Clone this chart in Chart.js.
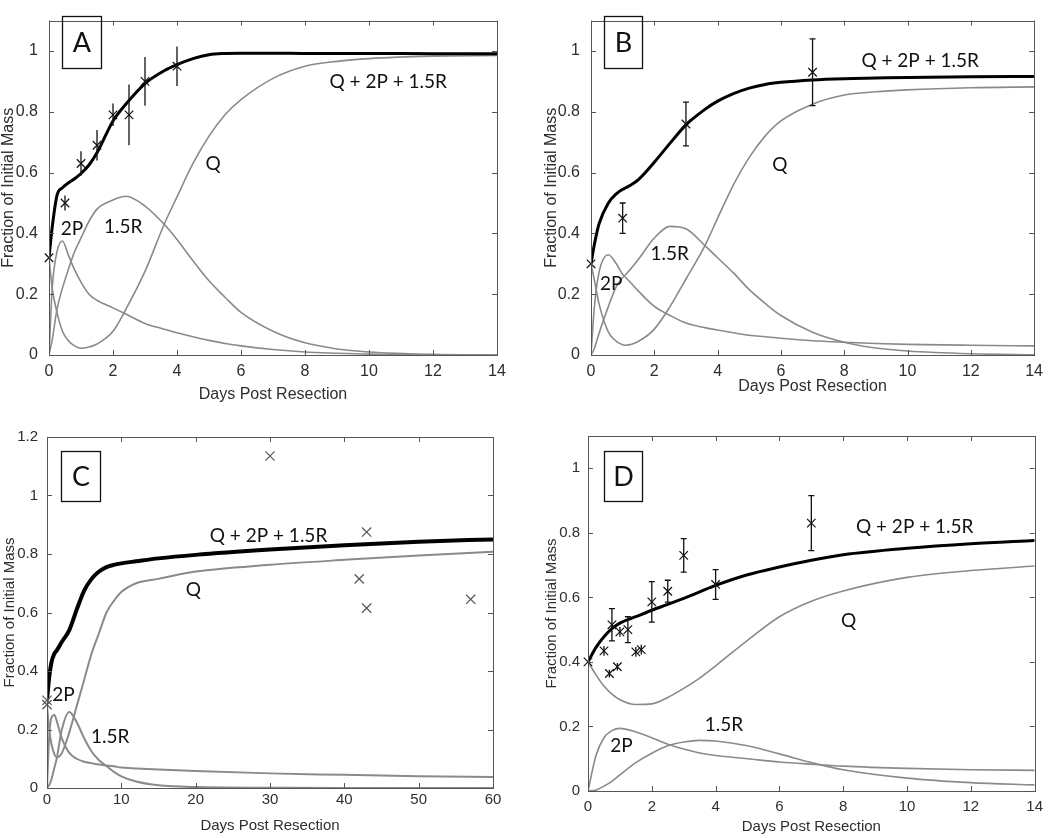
<!DOCTYPE html>
<html>
<head>
<meta charset="utf-8">
<script src="https://cdn.jsdelivr.net/npm/chart.js@4.4.1/dist/chart.umd.min.js"></script>
<style>
  body { margin: 0; background: #fff; }
  #fig { position: relative; width: 1050px; height: 838px; overflow: hidden; background: #fff; }
  canvas { position: absolute; }
</style>
</head>
<body>
<div id="fig">
  <canvas id="pa" width="525" height="419" style="left:0;top:0"></canvas>
  <canvas id="pb" width="525" height="419" style="left:525px;top:0"></canvas>
  <canvas id="pc" width="525" height="419" style="left:0;top:419px"></canvas>
  <canvas id="pd" width="525" height="419" style="left:525px;top:419px"></canvas>
</div>
<script>
// tick labels
const dayTicks14 = [0, 2, 4, 6, 8, 10, 12, 14];
const dayTicks60 = [0, 10, 20, 30, 40, 50, 60];
const fracTicks = [0, 0.2, 0.4, 0.6, 0.8, 1];
const fracTicksC = [0, 0.2, 0.4, 0.6, 0.8, 1, 1.2];

// panel A - model curves
const aDays  = [0, 0.1, 0.25, 0.42, 0.6, 0.8, 1, 1.25, 1.5, 2, 2.4, 3, 3.6, 4, 4.5, 5, 5.5, 6, 7, 8, 9, 10, 12, 14];
const aTotal = [0.32, 0.42, 0.525, 0.55, 0.566, 0.58, 0.597, 0.625, 0.665, 0.77, 0.825, 0.893, 0.935, 0.955, 0.975, 0.988, 0.992, 0.993, 0.993, 0.992, 0.992, 0.992, 0.991, 0.991];
const aQ     = [0.32, 0.22, 0.14, 0.078, 0.048, 0.03, 0.022, 0.026, 0.036, 0.078, 0.15, 0.275, 0.43, 0.52, 0.63, 0.72, 0.79, 0.84, 0.91, 0.95, 0.966, 0.975, 0.983, 0.985];
const a2P    = [0, 0.22, 0.34, 0.375, 0.33, 0.28, 0.24, 0.2, 0.18, 0.155, 0.135, 0.104, 0.085, 0.073, 0.06, 0.048, 0.038, 0.03, 0.018, 0.01, 0.006, 0.003, 0.001, 0];
const aR     = [0, 0.05, 0.15, 0.22, 0.28, 0.34, 0.385, 0.44, 0.48, 0.51, 0.522, 0.49, 0.43, 0.38, 0.31, 0.244, 0.19, 0.14, 0.078, 0.04, 0.02, 0.01, 0.002, 0];
// panel A - measurements
const aPtDays = [0, 0.5, 1, 1.5, 2, 2.5, 3, 4];
const aPtMean = [0.32, 0.50, 0.63, 0.69, 0.79, 0.79, 0.90, 0.95];
const aPtErr  = [0, 0.025, 0.04, 0.05, 0.037, 0.10, 0.08, 0.065];

// panel B - model curves
const bDays  = [0, 0.1, 0.25, 0.55, 0.8, 1, 1.1, 1.5, 2, 2.5, 3, 3.6, 4, 4.5, 5, 5.5, 6, 7, 8, 9, 10, 12, 14];
const bTotal = [0.30, 0.36, 0.43, 0.50, 0.53, 0.545, 0.55, 0.577, 0.634, 0.697, 0.757, 0.808, 0.835, 0.86, 0.878, 0.89, 0.897, 0.905, 0.909, 0.911, 0.913, 0.915, 0.916];
const bQ     = [0.30, 0.25, 0.17, 0.075, 0.045, 0.034, 0.032, 0.045, 0.085, 0.16, 0.25, 0.36, 0.45, 0.56, 0.65, 0.72, 0.77, 0.825, 0.855, 0.866, 0.872, 0.879, 0.882];
const b2P    = [0, 0.15, 0.27, 0.33, 0.3, 0.265, 0.255, 0.21, 0.16, 0.13, 0.105, 0.09, 0.082, 0.073, 0.065, 0.06, 0.055, 0.047, 0.042, 0.038, 0.035, 0.032, 0.03];
const bR     = [0, 0.02, 0.07, 0.16, 0.225, 0.255, 0.265, 0.315, 0.385, 0.423, 0.415, 0.36, 0.32, 0.27, 0.215, 0.17, 0.13, 0.075, 0.042, 0.023, 0.013, 0.004, 0.001];
// panel B - measurements
const bPtDays = [0, 1, 3, 7];
const bPtMean = [0.30, 0.45, 0.76, 0.93];
const bPtErr  = [0, 0.05, 0.072, 0.11];

// panel C - model curves
const cDays  = [0, 0.3, 0.6, 1, 1.3, 2, 3, 4, 5, 6, 7, 8, 9, 10, 12, 15, 20, 30, 40, 50, 60];
const cTotal = [0.30, 0.38, 0.43, 0.46, 0.47, 0.50, 0.54, 0.61, 0.675, 0.715, 0.74, 0.755, 0.763, 0.768, 0.775, 0.785, 0.797, 0.815, 0.83, 0.842, 0.85];
const cQ     = [0.28, 0.2, 0.15, 0.115, 0.105, 0.12, 0.19, 0.28, 0.37, 0.46, 0.53, 0.6, 0.64, 0.67, 0.7, 0.715, 0.74, 0.763, 0.78, 0.795, 0.808];
const c2P    = [0, 0.18, 0.24, 0.25, 0.23, 0.17, 0.12, 0.1, 0.09, 0.085, 0.08, 0.077, 0.074, 0.07, 0.067, 0.063, 0.058, 0.05, 0.045, 0.04, 0.038];
const cR     = [0, 0.01, 0.03, 0.07, 0.1, 0.2, 0.26, 0.225, 0.17, 0.125, 0.095, 0.075, 0.055, 0.04, 0.022, 0.009, 0.003, 0.001, 0, 0, 0];
// panel C - measurements
const cPtDays = [0, 0, 30, 42, 43, 43, 57];
const cPtMean = [0.30, 0.285, 1.135, 0.715, 0.875, 0.615, 0.645];
const cPtErr  = [0, 0, 0, 0, 0, 0, 0];

// panel D - model curves
const dDays  = [0, 0.25, 0.5, 0.75, 1, 1.5, 2, 2.5, 3, 3.5, 4, 5, 6, 7, 8, 10, 12, 14];
const dTotal = [0.40, 0.445, 0.478, 0.503, 0.52, 0.54, 0.56, 0.578, 0.597, 0.617, 0.637, 0.67, 0.694, 0.715, 0.732, 0.752, 0.766, 0.776];
const dQ     = [0.40, 0.36, 0.325, 0.3, 0.283, 0.268, 0.27, 0.29, 0.318, 0.35, 0.388, 0.467, 0.54, 0.588, 0.62, 0.662, 0.683, 0.697];
const d2P    = [0, 0.11, 0.165, 0.187, 0.194, 0.183, 0.165, 0.145, 0.13, 0.118, 0.11, 0.1, 0.09, 0.083, 0.077, 0.07, 0.066, 0.064];
const dR     = [0, 0.003, 0.015, 0.03, 0.05, 0.088, 0.117, 0.14, 0.152, 0.157, 0.155, 0.14, 0.115, 0.088, 0.066, 0.04, 0.026, 0.019];
// panel D - measurements
const dPtDays = [0, 0.5, 0.67, 0.75, 0.92, 1, 1.25, 1.5, 1.67, 2, 2.5, 3, 4, 7];
const dPtMean = [0.40, 0.434, 0.364, 0.515, 0.385, 0.493, 0.50, 0.431, 0.438, 0.586, 0.619, 0.73, 0.64, 0.83];
const dPtErr  = [0, 0.015, 0.012, 0.05, 0.012, 0.015, 0.04, 0.015, 0.015, 0.063, 0.034, 0.052, 0.046, 0.085];

const AXIS_FONT = "'Liberation Sans', Arial, sans-serif";
const NOTE_FONT = "Lato, 'Open Sans', sans-serif";
const AXIS_COLOR = '#2e2e2e';

function pts(xs, ys) {
  return xs.map((x, i) => ({ x: x, y: ys[i] }));
}

function makePanel(id, p) {
  const grey = { borderColor: '#8a8a8a', borderWidth: p.thin, pointRadius: 0, cubicInterpolationMode: 'monotone', fill: false };
  //패널 장식: 테두리, 안쪽 눈금, 오차막대, 글자
  const decor = {
    id: 'decor',
    afterDraw(chart) {
      const ctx = chart.ctx;
      const a = chart.chartArea;
      const xs = chart.scales.x, ys = chart.scales.y;
      ctx.save();
      ctx.strokeStyle = '#555';
      ctx.lineWidth = 1;
      ctx.strokeRect(Math.round(a.left) + 0.5, Math.round(a.top) + 0.5, Math.round(a.right - a.left), Math.round(a.bottom - a.top));
      ctx.beginPath();
      xs.ticks.forEach(t => {
        const px = Math.round(xs.getPixelForValue(t.value)) + 0.5;
        ctx.moveTo(px, a.bottom); ctx.lineTo(px, a.bottom - 5);
        ctx.moveTo(px, a.top); ctx.lineTo(px, a.top + 5);
      });
      ys.ticks.forEach(t => {
        const py = Math.round(ys.getPixelForValue(t.value)) + 0.5;
        ctx.moveTo(a.left, py); ctx.lineTo(a.left + 5, py);
        ctx.moveTo(a.right, py); ctx.lineTo(a.right - 5, py);
      });
      ctx.stroke();

      // error bars (caps only on the longer ones)
      ctx.strokeStyle = '#111';
      ctx.lineWidth = 1.3;
      ctx.beginPath();
      p.ptDays.forEach((d, i) => {
        const e = p.ptErr[i];
        if (!e) return;
        const px = xs.getPixelForValue(d);
        const y1 = ys.getPixelForValue(p.ptMean[i] - e);
        const y2 = ys.getPixelForValue(p.ptMean[i] + e);
        ctx.moveTo(px, y1); ctx.lineTo(px, y2);
        if (p.cap && e > 0.03) {
          ctx.moveTo(px - p.cap, y1); ctx.lineTo(px + p.cap, y1);
          ctx.moveTo(px - p.cap, y2); ctx.lineTo(px + p.cap, y2);
        }
      });
      ctx.stroke();

      // curve labels
      ctx.fillStyle = '#111';
      ctx.font = '19px ' + NOTE_FONT;
      ctx.textAlign = 'center';
      ctx.textBaseline = 'middle';
      p.notes.forEach(n => {
        ctx.fillText(n[0], xs.getPixelForValue(n[1]), ys.getPixelForValue(n[2]));
      });

      // panel letter
      const b = p.box;
      ctx.strokeStyle = '#111';
      ctx.lineWidth = 1.3;
      ctx.strokeRect(b[0], b[1], b[2], b[3]);
      ctx.font = '27px ' + NOTE_FONT;
      ctx.fillText(p.letter, b[0] + b[2] / 2, b[1] + b[3] / 2 + 1);

      // axis titles
      ctx.fillStyle = AXIS_COLOR;
      ctx.font = p.titleSize + 'px ' + AXIS_FONT;
      ctx.fillText('Days Post Resection', (a.left + a.right) / 2, a.bottom + p.xTitle);
      ctx.translate(p.yTitle, (a.top + a.bottom) / 2);
      ctx.rotate(-Math.PI / 2);
      ctx.fillText('Fraction of Initial Mass', 0, 0);
      ctx.restore();
    }
  };

  return new Chart(document.getElementById(id), {
    type: 'line',
    data: {
      datasets: [
        { data: pts(p.ptDays, p.ptMean), showLine: false, clip: false, pointStyle: 'crossRot', pointRadius: p.mark,
          pointBorderColor: p.markColor, pointBorderWidth: 1.2, pointBackgroundColor: 'transparent' },
        { data: pts(p.days, p.total), borderColor: '#000', borderWidth: p.thick, pointRadius: 0, cubicInterpolationMode: 'monotone' },
        Object.assign({ data: pts(p.days, p.q) }, grey),
        Object.assign({ data: pts(p.days, p.p2) }, grey),
        Object.assign({ data: pts(p.days, p.r) }, grey)
      ]
    },
    options: {
      responsive: false,
      animation: false,
      events: [],
      layout: { padding: { top: p.top, right: p.right, left: 0, bottom: 0 } },
      plugins: { legend: { display: false }, tooltip: { enabled: false } },
      scales: {
        x: {
          type: 'linear', min: 0, max: p.xMax,
          afterBuildTicks: s => { s.ticks = p.xTicks.map(v => ({ value: v })); },
          afterFit: s => { s.height = p.xh; },
          grid: { display: false, drawTicks: false },
          border: { display: false },
          ticks: { font: { family: AXIS_FONT, size: p.tickSize }, color: AXIS_COLOR, padding: p.xPad,
                   maxRotation: 0, autoSkip: false, callback: v => String(v) }
        },
        y: {
          type: 'linear', min: 0, max: p.yMax,
          afterBuildTicks: s => { s.ticks = p.yTicks.map(v => ({ value: v })); },
          afterFit: s => { s.width = p.yw; },
          grid: { display: false, drawTicks: false },
          border: { display: false },
          ticks: { font: { family: AXIS_FONT, size: p.tickSize }, color: AXIS_COLOR, padding: p.yPad,
                   autoSkip: false, callback: v => String(v) }
        }
      }
    },
    plugins: [decor]
  });
}

makePanel('pa', {
  days: aDays, total: aTotal, q: aQ, p2: a2P, r: aR,
  ptDays: aPtDays, ptMean: aPtMean, ptErr: aPtErr,
  xMax: 14, yMax: 1.1, xTicks: dayTicks14, yTicks: fracTicks,
  yw: 49, xh: 64, top: 2, right: 28, xPad: 7, yPad: 11,
  tickSize: 16, titleSize: 16, xTitle: 40, yTitle: 9,
  thin: 1.6, thick: 3, mark: 6, markColor: '#111', cap: 0,
  letter: 'A', box: [62.5, 16.5, 39, 52],
  notes: [['Q + 2P + 1.5R', 10.6, 0.9], ['Q', 5.13, 0.63], ['2P', 0.72, 0.416], ['1.5R', 2.32, 0.423]]
});

makePanel('pb', {
  days: bDays, total: bTotal, q: bQ, p2: b2P, r: bR,
  ptDays: bPtDays, ptMean: bPtMean, ptErr: bPtErr,
  xMax: 14, yMax: 1.1, xTicks: dayTicks14, yTicks: fracTicks,
  yw: 66, xh: 64, top: 2, right: 13, xPad: 7, yPad: 11,
  tickSize: 16, titleSize: 16, xTitle: 32, yTitle: 27,
  thin: 1.6, thick: 3, mark: 6, markColor: '#111', cap: 3,
  letter: 'B', box: [79.5, 16.5, 38, 52],
  notes: [['Q + 2P + 1.5R', 10.4, 0.967], ['Q', 5.97, 0.624], ['2P', 0.64, 0.234], ['1.5R', 2.49, 0.333]]
});

makePanel('pc', {
  days: cDays, total: cTotal, q: cQ, p2: c2P, r: cR,
  ptDays: cPtDays, ptMean: cPtMean, ptErr: cPtErr,
  xMax: 60, yMax: 1.2, xTicks: dayTicks60, yTicks: fracTicksC,
  yw: 47, xh: 50, top: 17, right: 32, xPad: 3, yPad: 9,
  tickSize: 15, titleSize: 15, xTitle: 38, yTitle: 10,
  thin: 2, thick: 4, mark: 6.5, markColor: '#555', cap: 0,
  letter: 'C', box: [61.5, 32.5, 39, 50],
  notes: [['Q + 2P + 1.5R', 29.8, 0.862], ['Q', 19.7, 0.676], ['2P', 2.2, 0.318], ['1.5R', 8.5, 0.174]]
});

makePanel('pd', {
  days: dDays, total: dTotal, q: dQ, p2: d2P, r: dR,
  ptDays: dPtDays, ptMean: dPtMean, ptErr: dPtErr,
  xMax: 14, yMax: 1.1, xTicks: dayTicks14, yTicks: fracTicks,
  yw: 63, xh: 47, top: 17, right: 15, xPad: 7, yPad: 8,
  tickSize: 15, titleSize: 15, xTitle: 36, yTitle: 27,
  thin: 1.6, thick: 3, mark: 6, markColor: '#111', cap: 3,
  letter: 'D', box: [79.5, 32.5, 38, 50],
  notes: [['Q + 2P + 1.5R', 10.24, 0.818], ['Q', 8.17, 0.526], ['2P', 1.05, 0.139], ['1.5R', 4.26, 0.204]]
});
</script>
</body>
</html>
